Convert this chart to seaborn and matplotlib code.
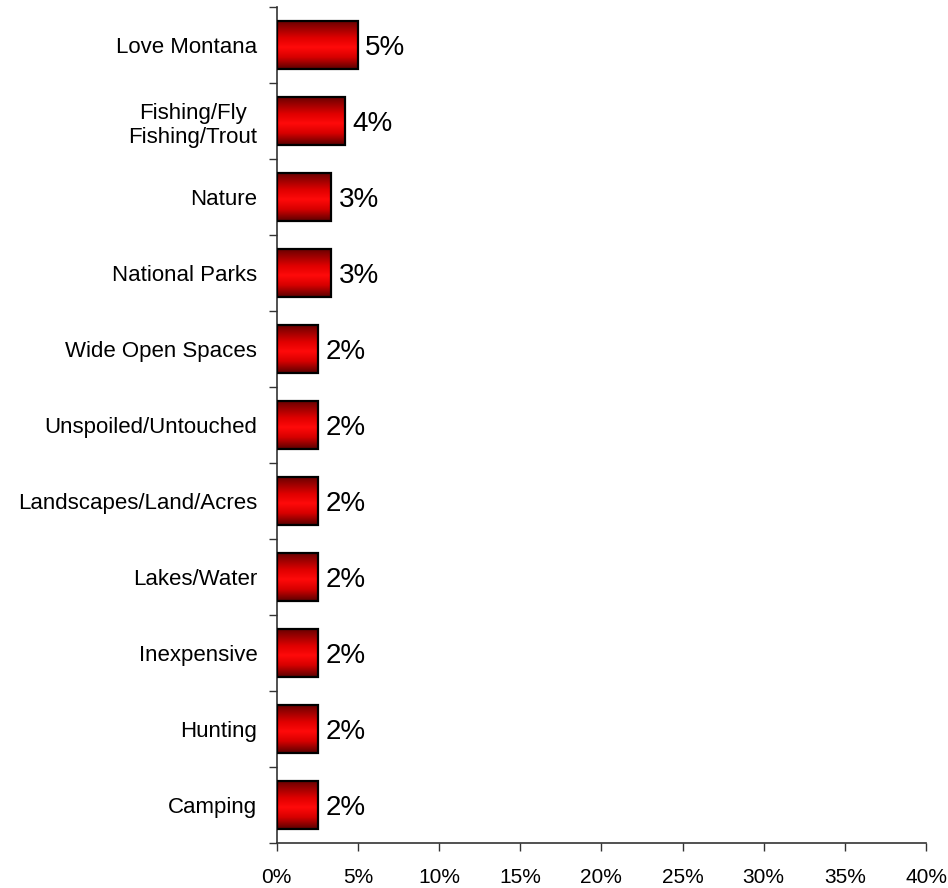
import numpy as np
import pandas as pd
import matplotlib
matplotlib.use("Agg")
import matplotlib.pyplot as plt
from matplotlib.colors import LinearSegmentedColormap
from matplotlib.ticker import FixedLocator, FuncFormatter
import seaborn as sns

categories = [
    "Love Montana", "Fishing/Fly\nFishing/Trout", "Nature", "National Parks",
    "Wide Open Spaces", "Unspoiled/Untouched", "Landscapes/Land/Acres",
    "Lakes/Water", "Inexpensive", "Hunting", "Camping",
]
values = [5.0, 4.2, 3.35, 3.35, 2.55, 2.55, 2.55, 2.55, 2.55, 2.55, 2.55]
x_ticks = [0, 5, 10, 15, 20, 25, 30, 35, 40]

df = pd.DataFrame({"category": categories, "value": values})

sns.set_style("white")
plt.rcParams["font.family"] = ["Liberation Sans", "DejaVu Sans"]
plt.rcParams["text.color"] = "black"

fig = plt.figure(figsize=(9.48, 8.88), dpi=100)
ax = fig.add_axes([0.2919, 0.0507, 0.6849, 0.9414])

sns.barplot(data=df, x="value", y="category", orient="h", ax=ax,
            color="red", width=0.62, edgecolor="black", linewidth=1.6,
            errorbar=None, zorder=2)

# vertical shading: dark edges, bright red centre
shade = LinearSegmentedColormap.from_list(
    "shade", [(0.0, "#6a0000"), (0.35, "#e00000"), (0.55, "#ff0a0a"),
              (0.75, "#d80000"), (1.0, "#5a0000")])
grad = np.linspace(0, 1, 256).reshape(-1, 1)
for patch in list(ax.patches):
    x0, y0 = patch.get_x(), patch.get_y()
    w, h = patch.get_width(), patch.get_height()
    im = ax.imshow(grad, cmap=shade, aspect="auto",
                   extent=(x0, x0 + w, y0 + h, y0), origin="upper",
                   zorder=2.5, interpolation="bilinear")
    im.set_clip_path(patch)
    patch.set_facecolor("none")
    patch.set_zorder(3)

for i, v in enumerate(values):
    ax.text(v + 0.45, i, f"{int(v)}%", va="center_baseline", ha="left",
            fontsize=20, color="black")

ax.set_xlim(0, 40)
ax.set_ylim(len(categories) - 0.5, -0.5)
ax.xaxis.set_major_locator(FixedLocator(x_ticks))
ax.xaxis.set_major_formatter(FuncFormatter(lambda v, p: f"{v:.0f}%"))
ax.set_xlabel("")
ax.set_ylabel("")

ax.yaxis.set_minor_locator(FixedLocator(np.arange(-0.5, len(categories), 1.0)))
ax.tick_params(axis="y", which="major", length=0, labelsize=16, pad=14,
               labelcolor="black")
ax.tick_params(axis="y", which="minor", length=6, width=1, color="#333333",
               left=True, direction="out")
ax.tick_params(axis="x", which="major", length=6, width=1, color="#333333",
               bottom=True, direction="out", labelsize=15, pad=12,
               labelcolor="black")
for lbl in ax.get_yticklabels():
    lbl.set_multialignment("center")
    lbl.set_linespacing(1.2)

sns.despine(ax=ax, top=True, right=True)
for side in ("left", "bottom"):
    ax.spines[side].set_color("#333333")
    ax.spines[side].set_linewidth(1.2)

fig.savefig("out.png", dpi=100, facecolor="white")
